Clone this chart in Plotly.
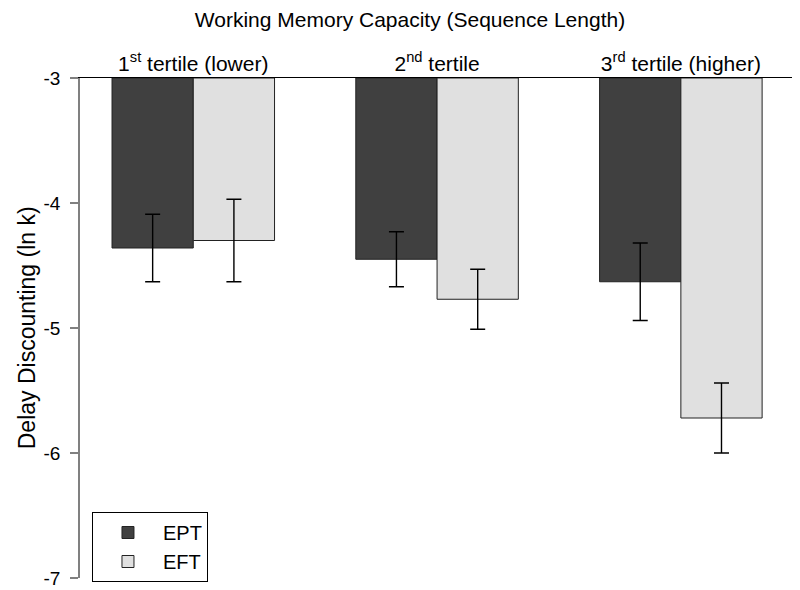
import plotly.graph_objects as go

# group labels along the top axis
groups = ["1<sup>st</sup> tertile (lower)", "2<sup>nd</sup> tertile", "3<sup>rd</sup> tertile (higher)"]
group_pos = [2, 5, 8]

# mean ln k per tertile, and standard errors
ept_mean = [-4.36, -4.45, -4.63]
ept_se = [0.27, 0.22, 0.31]
eft_mean = [-4.30, -4.77, -5.72]
eft_se = [0.33, 0.24, 0.28]

baseline = -3

ept_x = [p - 0.5 for p in group_pos]
eft_x = [p + 0.5 for p in group_pos]

fig = go.Figure()

fig.add_trace(go.Bar(
    x=ept_x, y=[m - baseline for m in ept_mean], base=baseline,
    width=1, name="EPT",
    marker=dict(color="#404040", line=dict(color="#222222", width=1)),
    error_y=dict(type="data", array=ept_se, color="black", thickness=1.4, width=7.5),
))
fig.add_trace(go.Bar(
    x=eft_x, y=[m - baseline for m in eft_mean], base=baseline,
    width=1, name="EFT",
    marker=dict(color="#e0e0e0", line=dict(color="#222222", width=1)),
    error_y=dict(type="data", array=eft_se, color="black", thickness=1.4, width=7.5),
))

# y title placed as a rotated annotation so it can sit near the page edge
fig.add_annotation(text="Delay Discounting (ln k)", textangle=-90,
                   xref="paper", yref="paper", x=-0.074, y=0.5,
                   xanchor="center", yanchor="middle", showarrow=False,
                   font=dict(size=23))

fig.update_layout(
    width=800, height=590,
    paper_bgcolor="white", plot_bgcolor="white",
    font=dict(family="Liberation Sans, Arial, sans-serif", color="black"),
    margin=dict(l=72, r=15, t=70, b=20),
    barmode="overlay",
    title=dict(text="Working Memory Capacity (Sequence Length)", x=0.5025, xanchor="center",
               y=0.98, yanchor="middle", font=dict(size=21)),
    showlegend=True,
    legend=dict(x=0.0168, y=-0.008, xanchor="left", yanchor="bottom",
                bordercolor="black", borderwidth=1, bgcolor="white",
                font=dict(size=20), itemwidth=60, tracegroupgap=0),
    xaxis=dict(range=[0.606, 9.38], side="top", tickvals=group_pos, ticktext=groups,
               showline=True, linecolor="black", linewidth=1, ticks="",
               showgrid=False, zeroline=False, tickfont=dict(size=21), automargin=False,
               ticklabelstandoff=-2),
    yaxis=dict(range=[-7, -3], tickvals=[-7, -6, -5, -4, -3],
               ticktext=["-7", "-6", "-5", "-4", "-3"],
               showline=True, linecolor="#808080", linewidth=1.5,
               ticks="outside", ticklen=8, tickcolor="#808080", tickwidth=1.5,
               showgrid=False, zeroline=False, tickfont=dict(size=19), automargin=False,
               ticklabelstandoff=6),
)

fig.write_html("out.html")
